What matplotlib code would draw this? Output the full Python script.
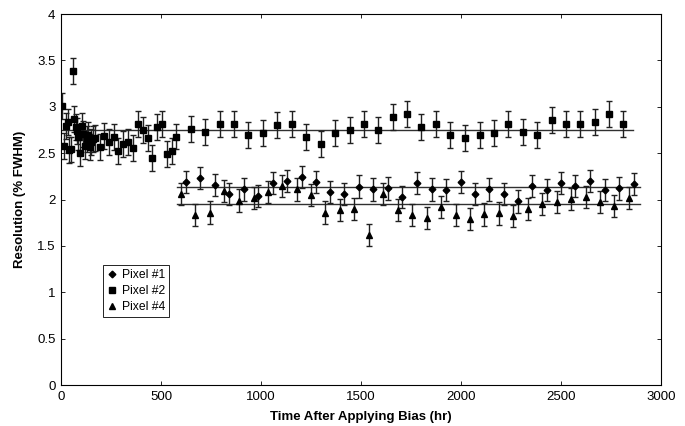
import matplotlib
matplotlib.use("Agg")
import matplotlib.pyplot as plt

plt.rcParams['font.family'] = ['Liberation Sans', 'DejaVu Sans']

# Pixel #2 (squares)
t2 = [7, 13, 25, 33, 40, 48, 62, 65, 73, 80, 87, 97, 103, 112, 120, 130, 137, 143,
      150, 158, 168, 193, 217, 240, 265, 287, 312, 337, 358, 383, 408, 433, 457,
      482, 507, 530, 553, 577, 650, 722, 793, 865, 937, 1008, 1082, 1153, 1225,
      1300, 1370, 1443, 1515, 1587, 1658, 1730, 1802, 1873, 1947, 2018, 2093,
      2165, 2237, 2310, 2380, 2453, 2525, 2597, 2668, 2740, 2812]
r2 = [3.01, 2.58, 2.79, 2.84, 2.53, 2.54, 3.39, 2.87, 2.78, 2.74, 2.67, 2.50, 2.79,
      2.71, 2.58, 2.65, 2.70, 2.57, 2.62, 2.65, 2.66, 2.57, 2.69, 2.62, 2.67, 2.52,
      2.60, 2.62, 2.56, 2.82, 2.75, 2.66, 2.45, 2.78, 2.81, 2.49, 2.52, 2.68, 2.76,
      2.73, 2.82, 2.81, 2.70, 2.72, 2.80, 2.81, 2.67, 2.60, 2.72, 2.75, 2.81, 2.75,
      2.89, 2.92, 2.78, 2.81, 2.70, 2.66, 2.70, 2.72, 2.81, 2.73, 2.70, 2.86, 2.81,
      2.81, 2.84, 2.92, 2.81]
err2 = 0.14

# Pixel #1 (diamonds)
t1 = [623, 697, 768, 840, 913, 987, 1060, 1132, 1203, 1275, 1347, 1417, 1490,
      1562, 1635, 1707, 1781, 1855, 1927, 1998, 2070, 2142, 2215, 2285, 2357,
      2428, 2500, 2572, 2647, 2720, 2792, 2863]
r1 = [2.19, 2.23, 2.16, 2.06, 2.11, 2.04, 2.18, 2.20, 2.24, 2.19, 2.08, 2.06, 2.14,
      2.11, 2.12, 2.03, 2.18, 2.11, 2.10, 2.19, 2.06, 2.11, 2.06, 1.98, 2.15, 2.10,
      2.18, 2.15, 2.20, 2.10, 2.12, 2.17]
err1 = 0.12

# Pixel #4 (triangles)
t4 = [600, 672, 745, 817, 890, 963, 1033, 1107, 1178, 1250, 1322, 1393, 1465,
      1540, 1612, 1683, 1756, 1828, 1900, 1973, 2045, 2117, 2188, 2260, 2333,
      2407, 2478, 2550, 2623, 2695, 2767, 2838]
r4 = [2.06, 1.83, 1.86, 2.09, 1.99, 2.02, 2.08, 2.15, 2.11, 2.05, 1.86, 1.89, 1.90,
      1.62, 2.06, 1.89, 1.83, 1.80, 1.92, 1.83, 1.79, 1.84, 1.85, 1.82, 1.90, 1.95,
      1.97, 2.01, 2.03, 1.97, 1.93, 2.02]
err4 = 0.12

# horizontal fits: (level, start, end)
fit2 = (2.75, 0, 2860)
fit1 = (2.135, 580, 2895)
fit4 = (1.95, 580, 2895)

fig = plt.figure(figsize=(6.85, 4.26), dpi=100)
ax = fig.add_axes([0.089, 0.096, 0.876, 0.871])

for lvl, x0, x1 in (fit2, fit1, fit4):
    ax.plot([x0, x1], [lvl, lvl], color='#303030', lw=1.0, zorder=1)

ebkw = dict(ls='none', color='black', ecolor='#202020', elinewidth=1.0,
            capsize=2.2, capthick=1.0, zorder=2)
ax.errorbar(t1, r1, yerr=err1, marker='D', ms=3.4, label='Pixel #1', **ebkw)
ax.errorbar(t2, r2, yerr=err2, marker='s', ms=3.8, label='Pixel #2', **ebkw)
ax.errorbar(t4, r4, yerr=err4, marker='^', ms=4.2, label='Pixel #4', **ebkw)

ax.set_xlim(0, 3000)
ax.set_ylim(0, 4)
ax.set_xticks([0, 500, 1000, 1500, 2000, 2500, 3000])
ax.set_yticks([0, 0.5, 1, 1.5, 2, 2.5, 3, 3.5, 4])
ax.set_yticklabels(['0', '0.5', '1', '1.5', '2', '2.5', '3', '3.5', '4'])
ax.tick_params(direction='in', top=True, right=True, length=3, width=0.6,
               labelsize=9.5, pad=4)
for s in ax.spines.values():
    s.set_linewidth(0.8)

ax.set_xlabel('Time After Applying Bias (hr)', fontsize=9.5, fontweight='bold', labelpad=6)
ax.set_ylabel('Resolution (% FWHM)', fontsize=9.5, fontweight='bold', labelpad=8)

handles, labels = ax.get_legend_handles_labels()
handles = [h[0] for h in handles]
leg = ax.legend(handles, labels, loc='upper left', bbox_to_anchor=(0.07, 0.325),
                fontsize=8.7, frameon=True, fancybox=False, edgecolor='black',
                framealpha=1, handlelength=0.8, handletextpad=0.4,
                borderpad=0.35, labelspacing=0.35, borderaxespad=0)
leg.get_frame().set_linewidth(0.6)

fig.savefig('out.png', dpi=100)
